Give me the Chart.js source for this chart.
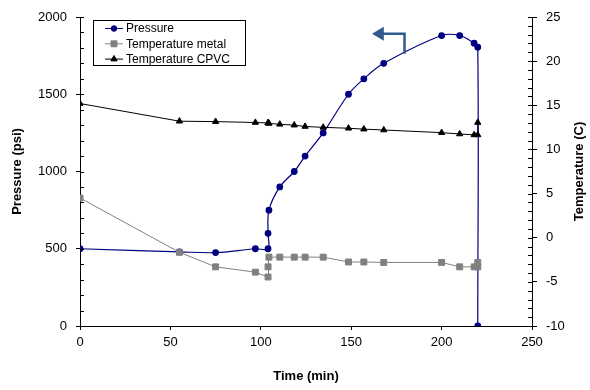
<!DOCTYPE html>
<html>
<head>
<meta charset="utf-8">
<script src="https://cdn.jsdelivr.net/npm/chart.js@4/dist/chart.umd.min.js"></script>
<style>
  html, body { margin: 0; padding: 0; background: #fff; }
  #wrap { width: 590px; height: 390px; }
</style>
</head>
<body>
<div id="wrap"><canvas id="chart"></canvas></div>
<script>
// data
const time = [0, 55, 75, 97, 104, 104, 104.5, 110.5, 118.5, 124.5, 134.5, 148.5, 157, 168, 200, 210, 218, 220, 220];
const pressure = [500, 480, 475, 500, 500, 600, 750, 900, 1000, 1100, 1250, 1500, 1600, 1700, 1880, 1880, 1830, 1805, 0];
const tempMetal = [4.5, -1.65, -3.3, -3.9, -4.45, -3.3, -2.2, -2.2, -2.2, -2.2, -2.2, -2.75, -2.75, -2.8, -2.8, -3.3, -3.3, -3.3, -2.8];
const tempCPVC = [15.2, 13.2, 13.15, 13.05, 13.0, 13.0, 12.95, 12.85, 12.75, 12.6, 12.5, 12.4, 12.3, 12.2, 11.9, 11.75, 11.65, 11.65, 13.05];

const seriesNames = ['Pressure', 'Temperature metal', 'Temperature CPVC'];
const axisTitles = { x: 'Time (min)', y: 'Pressure (psi)', y1: 'Temperature (C)' };

const FONT = "'Liberation Sans', Arial, sans-serif";

const toPoints = (xs, ys) => xs.map((x, i) => ({ x: x, y: ys[i] }));
const plain = (v) => String(v);

// minor tick marks inside the plot + right axis title (reads bottom to top)
const tickPlugin = {
  id: 'excelTicks',
  afterDraw(chart) {
    const c = chart.ctx;
    const area = chart.chartArea;
    const y = chart.scales.y, y1 = chart.scales.y1;
    c.save();
    c.strokeStyle = '#000';
    c.lineWidth = 1;
    c.beginPath();
    for (let v = 0; v <= 2000; v += 100) {
      const py = Math.round(y.getPixelForValue(v)) + 0.5;
      c.moveTo(area.left, py);
      c.lineTo(area.left + 4, py);
    }
    for (let v = -10; v <= 25; v += 1) {
      const py = Math.round(y1.getPixelForValue(v)) + 0.5;
      c.moveTo(area.right, py);
      c.lineTo(area.right - 4, py);
    }
    c.stroke();

    c.translate(579, (area.top + area.bottom) / 2);
    c.rotate(-Math.PI / 2);
    c.font = 'bold 13px ' + FONT;
    c.fillStyle = '#000';
    c.textAlign = 'center';
    c.textBaseline = 'middle';
    c.fillText(axisTitles.y1, 0, 0);
    c.restore();
  }
};

// legend box + arrow
const legendPlugin = {
  id: 'excelLegend',
  afterDraw(chart) {
    const c = chart.ctx;
    const sx = chart.scales.x, sy = chart.scales.y;

    const tipX = sx.getPixelForValue(161.5), lineY = sy.getPixelForValue(1892);
    const baseX = sx.getPixelForValue(167.5);
    const cornerX = sx.getPixelForValue(179.5), downY = sy.getPixelForValue(1762);
    c.save();
    c.strokeStyle = '#2f5a89';
    c.fillStyle = '#2f5a89';
    c.lineWidth = 2.5;
    c.beginPath();
    c.moveTo(baseX, lineY);
    c.lineTo(cornerX, lineY);
    c.lineTo(cornerX, downY);
    c.stroke();
    c.beginPath();
    c.moveTo(tipX, lineY);
    c.lineTo(baseX + 1, lineY - 7);
    c.lineTo(baseX + 1, lineY + 7);
    c.closePath();
    c.fill();
    c.restore();

    const bx = 93.5, by = 20.5, bw = 152, bh = 45;
    c.save();
    c.fillStyle = '#fff';
    c.fillRect(bx, by, bw, bh);
    c.strokeStyle = '#000';
    c.lineWidth = 1;
    c.strokeRect(bx, by, bw, bh);
    c.font = '12px ' + FONT;
    c.textBaseline = 'middle';
    chart.data.datasets.forEach((ds, i) => {
      const ly = by + 8 + i * 15.3;
      c.strokeStyle = ds.borderColor;
      c.lineWidth = 1;
      c.beginPath();
      c.moveTo(105, ly);
      c.lineTo(123, ly);
      c.stroke();
      c.fillStyle = ds.pointBackgroundColor;
      c.strokeStyle = ds.pointBorderColor;
      Chart.helpers.drawPoint(c, {
        pointStyle: ds.pointStyle,
        radius: ds.pointRadius,
        borderWidth: 1,
        rotation: 0
      }, 114, ly);
      c.fillStyle = '#000';
      c.fillText(ds.label, 126, ly + 0.5);
    });
    c.restore();
  }
};

const ctx = document.getElementById('chart');

const chart = new Chart(ctx, {
  type: 'line',
  data: {
    datasets: [{
      label: seriesNames[0],
      data: toPoints(time, pressure),
      yAxisID: 'y',
      borderColor: '#000080',
      backgroundColor: '#000080',
      pointBackgroundColor: '#000080',
      pointBorderColor: '#000080',
      pointStyle: 'circle',
      pointRadius: 2.8,
      borderWidth: 1.2,
      tension: 0.35,
      order: 3
    }, {
      label: seriesNames[1],
      data: toPoints(time, tempMetal),
      yAxisID: 'y1',
      borderColor: '#808080',
      backgroundColor: '#808080',
      pointBackgroundColor: '#808080',
      pointBorderColor: '#808080',
      pointStyle: 'rect',
      pointRadius: 4.2,
      borderWidth: 1,
      tension: 0,
      order: 2
    }, {
      label: seriesNames[2],
      data: toPoints(time, tempCPVC),
      yAxisID: 'y1',
      borderColor: '#000',
      backgroundColor: '#000',
      pointBackgroundColor: '#000',
      pointBorderColor: '#000',
      pointStyle: 'triangle',
      pointRadius: 3.6,
      borderWidth: 1,
      tension: 0,
      order: 1
    }]
  },
  options: {
    responsive: true,
    maintainAspectRatio: false,
    animation: false,
    layout: { padding: { top: 17, left: 0, right: 0, bottom: 0 } },
    plugins: {
      legend: { display: false },
      tooltip: { enabled: false }
    },
    scales: {
      x: {
        type: 'linear',
        min: 0,
        max: 250,
        ticks: { stepSize: 50, color: '#000', font: { family: FONT, size: 13 }, padding: 5, callback: plain },
        grid: { display: true, drawOnChartArea: false, drawTicks: true, tickLength: 4, color: '#000' },
        border: { color: '#000', width: 1 },
        title: { display: true, text: axisTitles.x, color: '#000', font: { family: FONT, size: 13, weight: 'bold' }, padding: { top: 0, bottom: 6 } },
        afterFit: (s) => { s.height = 64; }
      },
      y: {
        position: 'left',
        min: 0,
        max: 2000,
        ticks: { stepSize: 500, color: '#000', font: { family: FONT, size: 13 }, padding: 9, callback: plain },
        grid: { display: true, drawOnChartArea: false, drawTicks: true, tickLength: 4, color: '#000' },
        border: { color: '#000', width: 1 },
        title: { display: true, text: axisTitles.y, color: '#000', font: { family: FONT, size: 13, weight: 'bold' }, padding: { top: 10, bottom: 0 } },
        afterFit: (s) => { s.width = 80; }
      },
      y1: {
        position: 'right',
        min: -10,
        max: 25,
        ticks: { stepSize: 5, color: '#000', font: { family: FONT, size: 13 }, padding: 9, callback: plain },
        grid: { display: true, drawOnChartArea: false, drawTicks: true, tickLength: 5, color: '#000' },
        border: { color: '#000', width: 1 },
        title: { display: false },
        afterFit: (s) => { s.width = 58; }
      }
    }
  },
  plugins: [tickPlugin, legendPlugin]
});
</script>
</body>
</html>
